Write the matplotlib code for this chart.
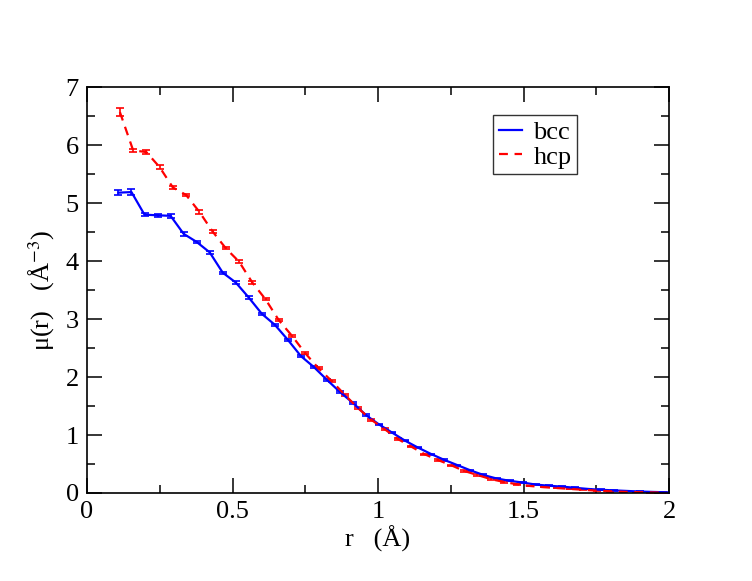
import numpy as np
import matplotlib
matplotlib.use("Agg")
import matplotlib.pyplot as plt
from matplotlib.ticker import MultipleLocator
from matplotlib.lines import Line2D

plt.rcParams['font.family'] = ['Liberation Serif', 'DejaVu Serif']
plt.rcParams['mathtext.fontset'] = 'stix'

# bcc radial grid and values
bcc_r0 = 0.108
bcc_dr = 0.0448
bcc_mu = [5.18, 5.19, 4.80, 4.79, 4.78, 4.47, 4.33, 4.15, 3.80, 3.63,
          3.37, 3.09, 2.90, 2.64, 2.36, 2.17, 1.95, 1.74, 1.55, 1.34,
          1.18, 1.04, 0.90, 0.78, 0.67, 0.57, 0.48, 0.39, 0.31, 0.25,
          0.21, 0.18, 0.145, 0.125, 0.11, 0.09, 0.07, 0.055, 0.045, 0.035,
          0.025, 0.018, 0.012]
bcc_err = [0.04, 0.05, 0.03, 0.03, 0.03, 0.03, 0.02, 0.02, 0.02, 0.02,
           0.02, 0.02, 0.02, 0.02, 0.02, 0.02, 0.015, 0.015, 0.015, 0.015,
           0.015, 0.01, 0.01, 0.01, 0.01, 0.01, 0.01, 0.01, 0.01, 0.01,
           0.01, 0.01, 0.005, 0.005, 0.005, 0.005, 0.005, 0.005, 0.005, 0.005,
           0.005, 0.005, 0.005]

# hcp radial grid and values
hcp_r0 = 0.113
hcp_dr = 0.0455
hcp_mu = [6.57, 5.91, 5.88, 5.62, 5.27, 5.14, 4.85, 4.51, 4.22, 3.99,
          3.63, 3.34, 2.98, 2.71, 2.41, 2.15, 1.93, 1.69, 1.46, 1.26,
          1.10, 0.93, 0.80, 0.67, 0.57, 0.48, 0.38, 0.31, 0.24, 0.19,
          0.15, 0.12, 0.10, 0.085, 0.07, 0.055, 0.04, 0.03, 0.02, 0.015,
          0.01, 0.006]
hcp_err = [0.07, 0.03, 0.03, 0.03, 0.02, 0.02, 0.03, 0.02, 0.02, 0.02,
           0.02, 0.02, 0.02, 0.02, 0.02, 0.02, 0.015, 0.015, 0.015, 0.015,
           0.015, 0.01, 0.01, 0.01, 0.01, 0.01, 0.01, 0.01, 0.01, 0.01,
           0.005, 0.005, 0.005, 0.005, 0.005, 0.005, 0.005, 0.005, 0.005, 0.005,
           0.005, 0.005]

bcc_r = bcc_r0 + bcc_dr * np.arange(len(bcc_mu))
hcp_r = hcp_r0 + hcp_dr * np.arange(len(hcp_mu))

fig = plt.figure(figsize=(7.52, 5.81), dpi=100)
ax = fig.add_axes([0.1157, 0.1515, 0.774, 0.6985])

hcp_ls = (0, (4, 3))
ax.errorbar(bcc_r, bcc_mu, yerr=bcc_err, color='blue', lw=1.6, capsize=3,
            elinewidth=1.2, capthick=1.2)
ax.errorbar(hcp_r, hcp_mu, yerr=hcp_err, color='red', lw=1.6, capsize=3,
            elinewidth=1.2, capthick=1.2, ls=hcp_ls)

ax.set_xlim(0, 2)
ax.set_ylim(0, 7)
ax.xaxis.set_minor_locator(MultipleLocator(0.25))
ax.yaxis.set_major_locator(MultipleLocator(1))
ax.yaxis.set_minor_locator(MultipleLocator(0.5))
ax.set_xticks([0, 0.5, 1, 1.5, 2])
ax.set_xticklabels(['0', '0.5', '1', '1.5', '2'])
ax.tick_params(which='both', direction='in', top=True, right=True, labelsize=19, width=1.1)
ax.tick_params(which='major', length=11, pad=6)
ax.tick_params(which='minor', length=6)
for s in ax.spines.values():
    s.set_linewidth(1.2)

ax.set_xlabel('r   (Å)', fontsize=19, labelpad=2)
ax.set_ylabel('μ(r)   (Å$^{-3}$)', fontsize=19, labelpad=6)

handles = [Line2D([], [], color='blue', lw=1.6),
           Line2D([], [], color='red', lw=1.6, ls=hcp_ls)]
leg = ax.legend(handles, ['bcc', 'hcp'], loc='upper left',
                bbox_to_anchor=(0.698, 0.931), fontsize=19,
                frameon=True, fancybox=False, edgecolor='black',
                handlelength=0.87, handletextpad=0.45, borderpad=0.2,
                labelspacing=0.05, borderaxespad=0)
leg.get_frame().set_linewidth(1.0)

plt.savefig('out.png', dpi=100)
